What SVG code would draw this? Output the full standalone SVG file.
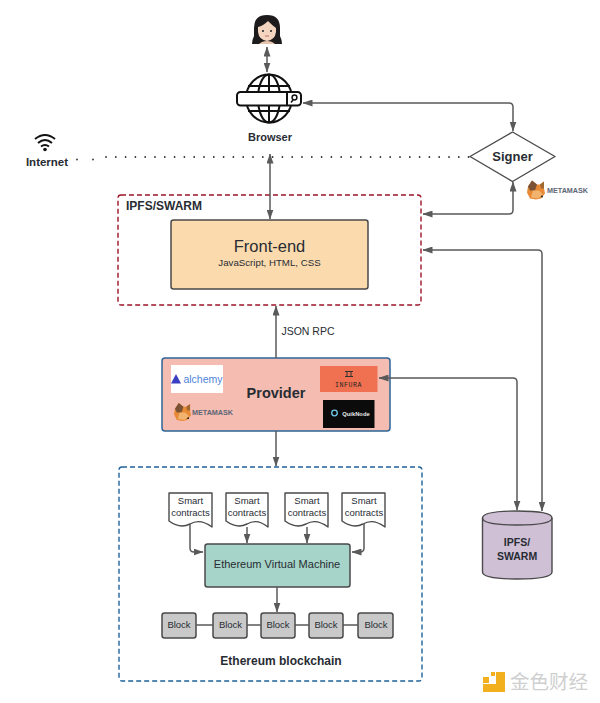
<svg xmlns="http://www.w3.org/2000/svg" width="600" height="703" viewBox="0 0 600 703">
<style>
text{font-family:"Liberation Sans",Arial,sans-serif;fill:#282c33;text-anchor:middle}
.b{font-weight:bold}
.c{fill:none;stroke:#5a5a5a;stroke-width:1.5;stroke-linejoin:round}
.box{stroke:#4a4a4a;stroke-width:1.5}
.g{fill:none;stroke:#111;stroke-width:2}
.doc{fill:#fff;stroke:#4a4a4a;stroke-width:1.4;stroke-linejoin:round}
.blk{fill:#c9c9c9;stroke:#4a4a4a;stroke-width:1.5}
.s{font-size:9.5px}
.mm{font-size:7.2px;fill:#5c6675;font-weight:bold;text-anchor:start}
</style>
<defs>
<marker id="a" markerWidth="10" markerHeight="7" refX="9.500" refY="3.500" orient="auto-start-reverse" markerUnits="userSpaceOnUse"><path d="M0,0L10,3.500L0,7Z" fill="#5a5a5a"/></marker>
<symbol id="fox" viewBox="0 0 18 19">
<path d="M1,6L5,0L10,4L13,4L17,1L17,8L18,13L14,18L9,19L3,18L0,12Z" fill="#e88a35"/>
<path d="M1,6L5,0L10,4L8,10L3,10Z" fill="#7b5235"/>
<path d="M13,4L17,1L17,8L14,8Z" fill="#a0672f"/>
<path d="M6,10L12,10L16,14L11,18L4,17Z" fill="#f2b36e"/>
<circle cx="15" cy="16" r="1" fill="#222"/>
</symbol>
</defs>
<rect width="600" height="703" fill="#fff"/>

<g id="user">
<path d="M252,44Q252,40 254,36V28Q254,15 267,15Q280,15 280,28V36Q282,40 282,44Z" fill="#1d1b1b"/>
<path d="M258,27Q263,26 268,21Q273,26 276,28V32Q275,40 267,41Q259,40 258,32Z" fill="#f3d5c0"/>
<path d="M259,44Q262,41 267,41Q272,41 275,44Z" fill="#eac5ad"/>
<circle cx="263" cy="31" r="1" fill="#222"/><circle cx="271" cy="31" r="1" fill="#222"/>
<path d="M265,36H269" stroke="#c26a66" stroke-width="1"/>
</g>

<g id="browser">
<ellipse class="g" cx="269" cy="98.500" rx="23" ry="24"/>
<ellipse class="g" cx="269" cy="98.500" rx="11" ry="24"/>
<path class="g" d="M269,74V123M248,86H290M248,111H290"/>
<rect x="237" y="92" width="64" height="13.500" rx="3.500" fill="#fff" stroke="#111" stroke-width="2"/>
<path class="g" d="M287,92V105"/>
<circle cx="294.500" cy="97.500" r="2.400" fill="none" stroke="#111" stroke-width="1.500"/>
<path d="M293,100L291,102.500" stroke="#111" stroke-width="1.500"/>
<text class="b" x="270" y="141" font-size="11">Browser</text>
</g>

<g id="internet">
<path d="M35,139Q45,131 55,139M38,143Q45,137 52,143M41,146.500Q45,143.500 49,146.500" fill="none" stroke="#111" stroke-width="2"/>
<circle cx="45" cy="149.500" r="1.800" fill="#111"/>
<text class="b" x="47" y="166" font-size="11.500">Internet</text>
</g>

<g id="signer">
<path d="M512.500,132L555,156.500L512.500,181.500L470,156.500Z" fill="#fff" stroke="#4a4a4a" stroke-width="1.400" stroke-linejoin="round"/>
<text class="b" x="512.500" y="160.500" font-size="13">Signer</text>
<use href="#fox" x="527" y="180" width="18" height="20"/>
<text class="mm" x="547" y="193">METAMASK</text>
</g>

<g id="ipfs-swarm-frame">
<rect x="118" y="195" width="303" height="110" rx="3" fill="none" stroke="#9c1528" stroke-width="1.400" stroke-dasharray="5 3"/>
<text x="164" y="210" font-size="12" class="b">IPFS/SWARM</text>
</g>

<g id="front-end">
<rect class="box" x="171" y="220" width="197" height="69" rx="2.500" fill="#fbdbae"/>
<text x="269.500" y="252" font-size="16.500">Front-end</text>
<text x="269.500" y="266" font-size="9.700">JavaScript, HTML, CSS</text>
</g>

<text x="308" y="335" font-size="10.500">JSON RPC</text>

<g id="provider">
<rect x="162" y="358" width="228" height="73" rx="3" fill="#f5bcb2" stroke="#2c6597" stroke-width="1.500"/>
<text class="b" x="276" y="398" font-size="14.500">Provider</text>
<rect x="171" y="365" width="52" height="28" fill="#fff"/>
<path d="M176,374L171,383.500H181Z" fill="#3a3fc2"/>
<text x="203" y="383" font-size="10.500" style="fill:#4e84d8">alchemy</text>
<rect x="320" y="366" width="57.500" height="26" fill="#f07151"/>
<path d="M345,371.500H353M345,376.500H353M347,371.500V376.500M351,371.500V376.500" stroke="#333" stroke-width="1" fill="none"/>
<text x="348.500" y="387" font-size="6.500" style="font-family:'Liberation Mono',monospace;fill:#222;letter-spacing:.6px">INFURA</text>
<rect x="323" y="400" width="51.500" height="28" fill="#0b0b0b"/>
<circle cx="334.500" cy="413" r="2.800" fill="none" stroke="#6fc9e8" stroke-width="1.300"/>
<text x="356" y="415.500" font-size="5.800" class="b" style="fill:#e8e8e8">QuikNode</text>
<use href="#fox" x="174" y="403" width="17" height="18"/>
<text class="mm" x="192" y="414.500">METAMASK</text>
</g>

<g id="ethereum-blockchain-frame">
<rect x="119" y="467" width="303" height="214" rx="3" fill="none" stroke="#1f629c" stroke-width="1.400" stroke-dasharray="5 3"/>
<text class="b" x="281" y="665" font-size="12">Ethereum blockchain</text>
</g>

<g id="contract-1"><path class="doc" d="M169,493H212V527Q200,518 190,524Q180,529 169,521Z"/><text class="s" x="190.500" y="504">Smart</text><text class="s" x="190.500" y="515.500">contracts</text></g>
<g id="contract-2"><path class="doc" d="M226,493H268V527Q257,518 247,524Q237,529 226,521Z"/><text class="s" x="247" y="504">Smart</text><text class="s" x="247" y="515.500">contracts</text></g>
<g id="contract-3"><path class="doc" d="M285,493H328V527Q316,518 306,524Q296,529 285,521Z"/><text class="s" x="307" y="504">Smart</text><text class="s" x="307" y="515.500">contracts</text></g>
<g id="contract-4"><path class="doc" d="M342,493H385V527Q373,518 363,524Q353,529 342,521Z"/><text class="s" x="364" y="504">Smart</text><text class="s" x="364" y="515.500">contracts</text></g>

<g id="evm">
<rect class="box" x="205" y="544" width="145" height="43" rx="2.500" fill="#a6d4c8"/>
<text x="277" y="567.500" font-size="11">Ethereum Virtual Machine</text>
</g>

<g id="block-1"><rect class="blk" x="162" y="613" width="34" height="25" rx="2.500"/><text class="s" x="179" y="627.500">Block</text></g>
<g id="block-2"><rect class="blk" x="213" y="613" width="34" height="25" rx="2.500"/><text class="s" x="230.500" y="627.500">Block</text></g>
<g id="block-3"><rect class="blk" x="261" y="613" width="34" height="25" rx="2.500"/><text class="s" x="278" y="627.500">Block</text></g>
<g id="block-4"><rect class="blk" x="309" y="613" width="34" height="25" rx="2.500"/><text class="s" x="326" y="627.500">Block</text></g>
<g id="block-5"><rect class="blk" x="358" y="613" width="35" height="25" rx="2.500"/><text class="s" x="376" y="627.500">Block</text></g>

<g id="ipfs-swarm-store">
<path d="M482.500,518Q482.500,511 517,511Q552,511 552,518V572Q552,579 517,579Q482.500,579 482.500,572Z" fill="#cfc0d6" stroke="#4a4a4a" stroke-width="1.400"/>
<path d="M482.500,518Q482.500,525 517,525Q552,525 552,518" fill="none" stroke="#4a4a4a" stroke-width="1.400"/>
<text class="b" x="517" y="546" font-size="10.500">IPFS/</text>
<text class="b" x="517" y="560" font-size="10.500">SWARM</text>
</g>

<g id="watermark">
<path d="M496,672H505V692H483V684H496Z" fill="#f2b01e"/>
<rect x="483" y="677" width="6" height="6" fill="#f2b01e"/>
<rect x="491" y="672" width="4" height="4" fill="#f2b01e"/>
<text x="549" y="689" font-size="19.500" style="font-family:'Noto Sans CJK SC',sans-serif;fill:#cfcfcf">金色财经</text>
</g>

<g id="connectors">
<path class="c" d="M267,47V72" marker-start="url(#a)" marker-end="url(#a)"/>
<path class="c" d="M303,103H509Q513,103 513,107V131" marker-start="url(#a)" marker-end="url(#a)"/>
<path d="M106,157H470" fill="none" stroke="#333" stroke-width="1.800" stroke-linecap="round" stroke-dasharray="0 9.800"/>
<path d="M77,159.500H95" fill="none" stroke="#333" stroke-width="1.800" stroke-linecap="round" stroke-dasharray="0 16"/>
<path class="c" d="M270,154V219" marker-start="url(#a)" marker-end="url(#a)"/>
<path class="c" d="M423,214H509Q513,214 513,210V182" marker-start="url(#a)" marker-end="url(#a)"/>
<path class="c" d="M423,250H538Q542,250 542,254V511" marker-start="url(#a)" marker-end="url(#a)"/>
<path class="c" d="M379,378H513Q517,378 517,382V510" marker-start="url(#a)" marker-end="url(#a)"/>
<path class="c" d="M276,306V358" marker-start="url(#a)"/>
<path class="c" d="M276,431V466" marker-end="url(#a)"/>
<path class="c" d="M190,524V548Q190,552 194,552H203" marker-end="url(#a)"/>
<path class="c" d="M247,527V543" marker-end="url(#a)"/>
<path class="c" d="M307,527V543" marker-end="url(#a)"/>
<path class="c" d="M364,524V548Q364,552 360,552H352" marker-end="url(#a)"/>
<path class="c" d="M277,587V612" marker-end="url(#a)"/>
<path class="c" d="M196,625H213M247,625H261M295,625H309M343,625H358"/>
</g>
</svg>
